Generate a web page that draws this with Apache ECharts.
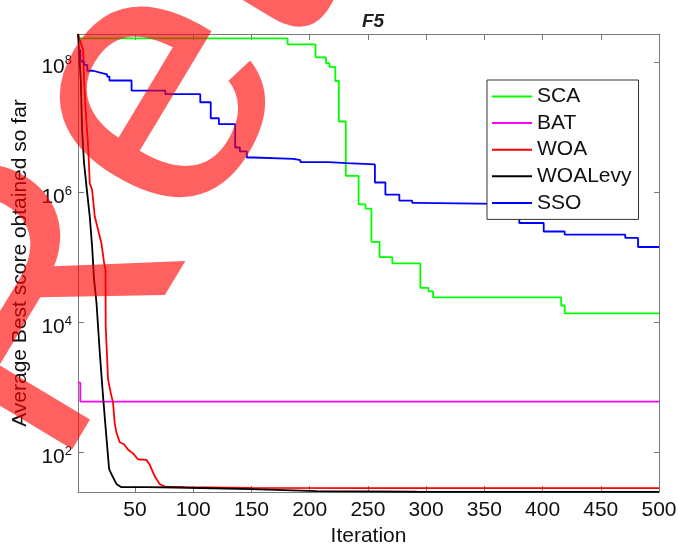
<!DOCTYPE html>
<html><head><meta charset="utf-8">
<script src="https://cdn.jsdelivr.net/npm/echarts@6/dist/echarts.min.js"></script>
<style>html,body{margin:0;padding:0;background:#fff}#c{width:678px;height:548px}</style>
</head><body><div id="c"></div>
<script>
// ---- data ----
const seriesNames = ['SCA', 'BAT', 'WOA', 'WOALevy', 'SSO'];
const xTicks = [50, 100, 150, 200, 250, 300, 350, 400, 450, 500];
const yTicks = [1e2, 1e4, 1e6, 1e8];

// SCA: step curve (iteration where a level starts, level value)
const scaIter = [1, 181, 205, 214, 217, 222, 225, 231, 242, 248, 253, 260, 271, 295, 302, 306, 416, 419, 500];
const scaVal  = [2.33e8, 1.89e8, 1.19e8, 9.66e7, 8.47e7, 5.16e7, 1.23e7, 1.80e6, 6.55e5, 5.62e5, 1.74e5, 1.01e5, 8.15e4, 3.42e4, 3.02e4, 2.43e4, 1.83e4, 1.38e4, 1.38e4];

// BAT
const batIter = [1, 3, 500];
const batVal  = [1190, 610, 610];

// WOA
const woaIter = [1, 5.4, 6.2, 7.7, 9.7, 11.1, 13.1, 15.4, 18.2, 21.1, 23.4, 24.6, 24.8, 26.3, 26.8, 29.1, 31.1, 32.5, 34, 36.8, 40.5, 43.9, 48.2, 52.5, 59.7, 62.5, 66.8, 71.1, 75.4, 92.6, 150, 250, 500];
const woaVal  = [2.72e8, 1.55e8, 5.37e7, 1.66e7, 5.13e6, 1.38e6, 1.10e6, 4.27e5, 2.69e5, 1.66e5, 8.32e4, 6.46e4, 8710, 8320, 1349, 832, 589, 288, 204, 145, 135, 112, 97.7, 79.4, 77.6, 66.1, 43.7, 33.1, 30.2, 29.5, 28.9, 28.6, 28.6];

// WOALevy
const levyIter = [1, 3.4, 4.5, 6.2, 8.3, 11.1, 13.1, 14.8, 16.9, 19.7, 22.5, 24.6, 26.3, 27.7, 29.7, 32, 34, 38.3, 60, 85, 150, 206, 292, 500];
const levyVal  = [2.72e8, 5.37e7, 9.12e6, 2.82e6, 1.23e6, 4.27e5, 1.48e5, 4.57e4, 2.0e4, 3467, 741, 257, 112, 56.2, 46.8, 38.9, 33.1, 29.5, 29.5, 29.2, 27.5, 25.7, 25.1, 25.0];

// SSO: step curve
const ssoIter = [1, 3, 6, 9, 14, 20, 26, 28, 47, 76, 106, 115, 122, 136, 140, 146, 152, 186, 192, 216, 232, 256, 265, 277, 288, 292, 380, 401, 419, 471, 482, 500];
const ssoVal  = [1.55e8, 1.05e8, 9.12e7, 7.41e7, 6.92e7, 6.53e7, 6.03e7, 5.25e7, 3.67e7, 3.24e7, 2.43e7, 1.38e7, 1.12e7, 4.90e6, 4.27e6, 3.44e6, 3.27e6, 3.14e6, 2.92e6, 2.82e6, 2.69e6, 1.42e6, 9.23e5, 7.46e5, 6.92e5, 6.61e5, 3.39e5, 2.51e5, 2.24e5, 2.0e5, 1.45e5, 1.45e5];

const yMin = 24.9, yMax = 2.72e8;
// ---- end data ----

const pairs = (xs, ys) => xs.map((x, i) => [x, ys[i]]);
const FONT = 'Liberation Sans';
const axisGray = '#7a7a7a';

const chart = echarts.init(document.getElementById('c'), null, {renderer: 'canvas'});

const mkSeries = (name, color, xs, ys, step) => ({
  name, type: 'line', data: pairs(xs, ys), step: step ? 'end' : false,
  symbol: 'none', showSymbol: false, clip: true,
  lineStyle: {color, width: 1.8}, itemStyle: {color},
  xAxisIndex: 0, yAxisIndex: 0
});

const supFmt = v => '{b|10}{s|' + Math.round(Math.log10(v)) + '}';
const wmStyle = t => ({text: t, fontFamily: FONT, fontSize: 370, fill: 'rgba(255,0,0,0.62)', align: 'left', verticalAlign: 'middle'});

chart.setOption({
  animation: false,
  backgroundColor: '#fff',
  title: {
    text: 'F5', left: 357, top: 7,
    textStyle: {fontFamily: FONT, fontSize: 19, fontWeight: 'bold', fontStyle: 'italic', color: '#222'}
  },
  grid: {left: 78, right: 19, top: 34, bottom: 56, containLabel: false, outerBoundsMode: 'none'},
  legend: {
    orient: 'vertical', left: 487, top: 80,
    icon: 'path://M0,0H40V2H0Z',
    itemWidth: 40, itemHeight: 2, itemGap: 5.6,
    padding: [6, 7, 6, 5],
    borderColor: '#333', borderWidth: 1, backgroundColor: '#fff',
    textStyle: {fontFamily: FONT, fontSize: 21, color: '#111', lineHeight: 21},
    data: seriesNames
  },
  xAxis: [{
    type: 'value', min: 1, max: 500, position: 'bottom',
    name: 'Iteration', nameLocation: 'middle', nameGap: 33,
    nameTextStyle: {fontFamily: FONT, fontSize: 21, color: '#111'},
    axisLine: {show: true, lineStyle: {color: axisGray, width: 1}},
    axisTick: {show: true, inside: true, length: 6, customValues: xTicks, lineStyle: {color: axisGray}},
    axisLabel: {show: true, customValues: xTicks, margin: 8, fontFamily: FONT, fontSize: 21, color: '#111'},
    splitLine: {show: false}
  }, {
    type: 'value', min: 1, max: 500, position: 'top',
    axisLine: {show: true, onZero: false, lineStyle: {color: axisGray, width: 1}},
    axisTick: {show: true, inside: true, length: 6, customValues: xTicks, lineStyle: {color: axisGray}},
    axisLabel: {show: false},
    splitLine: {show: false}
  }],
  yAxis: [{
    type: 'log', logBase: 10, min: yMin, max: yMax, position: 'left',
    name: 'Average Best score obtained so far', nameLocation: 'middle', nameGap: 35, nameRotate: 90,
    nameTextStyle: {fontFamily: FONT, fontSize: 21, color: '#111'},
    axisLine: {show: true, lineStyle: {color: axisGray, width: 1}},
    axisTick: {show: true, inside: true, length: 6, customValues: yTicks, lineStyle: {color: axisGray}},
    axisLabel: {
      show: true, customValues: yTicks, margin: 6, formatter: supFmt,
      rich: {
        b: {fontFamily: FONT, fontSize: 21, color: '#111', padding: [9, 0, 0, 0]},
        s: {fontFamily: FONT, fontSize: 13, color: '#111', padding: [0, 0, 3, 0]}
      }
    },
    splitLine: {show: false}
  }, {
    type: 'log', logBase: 10, min: yMin, max: yMax, position: 'right',
    axisLine: {show: true, lineStyle: {color: axisGray, width: 1}},
    axisTick: {show: true, inside: true, length: 5, customValues: yTicks, lineStyle: {color: axisGray}},
    axisLabel: {show: false},
    splitLine: {show: false}
  }],
  series: [
    mkSeries('SCA', '#00ff00', scaIter, scaVal, true),
    mkSeries('BAT', '#ff00ff', batIter, batVal, true),
    mkSeries('WOA', '#ff0000', woaIter, woaVal, false),
    mkSeries('WOALevy', '#000000', levyIter, levyVal, false),
    mkSeries('SSO', '#0000ff', ssoIter, ssoVal, true)
  ],
  graphic: [{
    type: 'group', z: 100, silent: true,
    x: -30, y: 429, rotation: 59 * Math.PI / 180,
    children: [
      {type: 'text', z: 100, x: 5, y: -4, style: wmStyle('R')},
      {type: 'text', z: 100, x: 276, y: -9, style: wmStyle('e')},
      {type: 'text', z: 100, x: 480, y: -14, style: wmStyle('tracted')}
    ]
  }]
});
</script>
</body></html>
